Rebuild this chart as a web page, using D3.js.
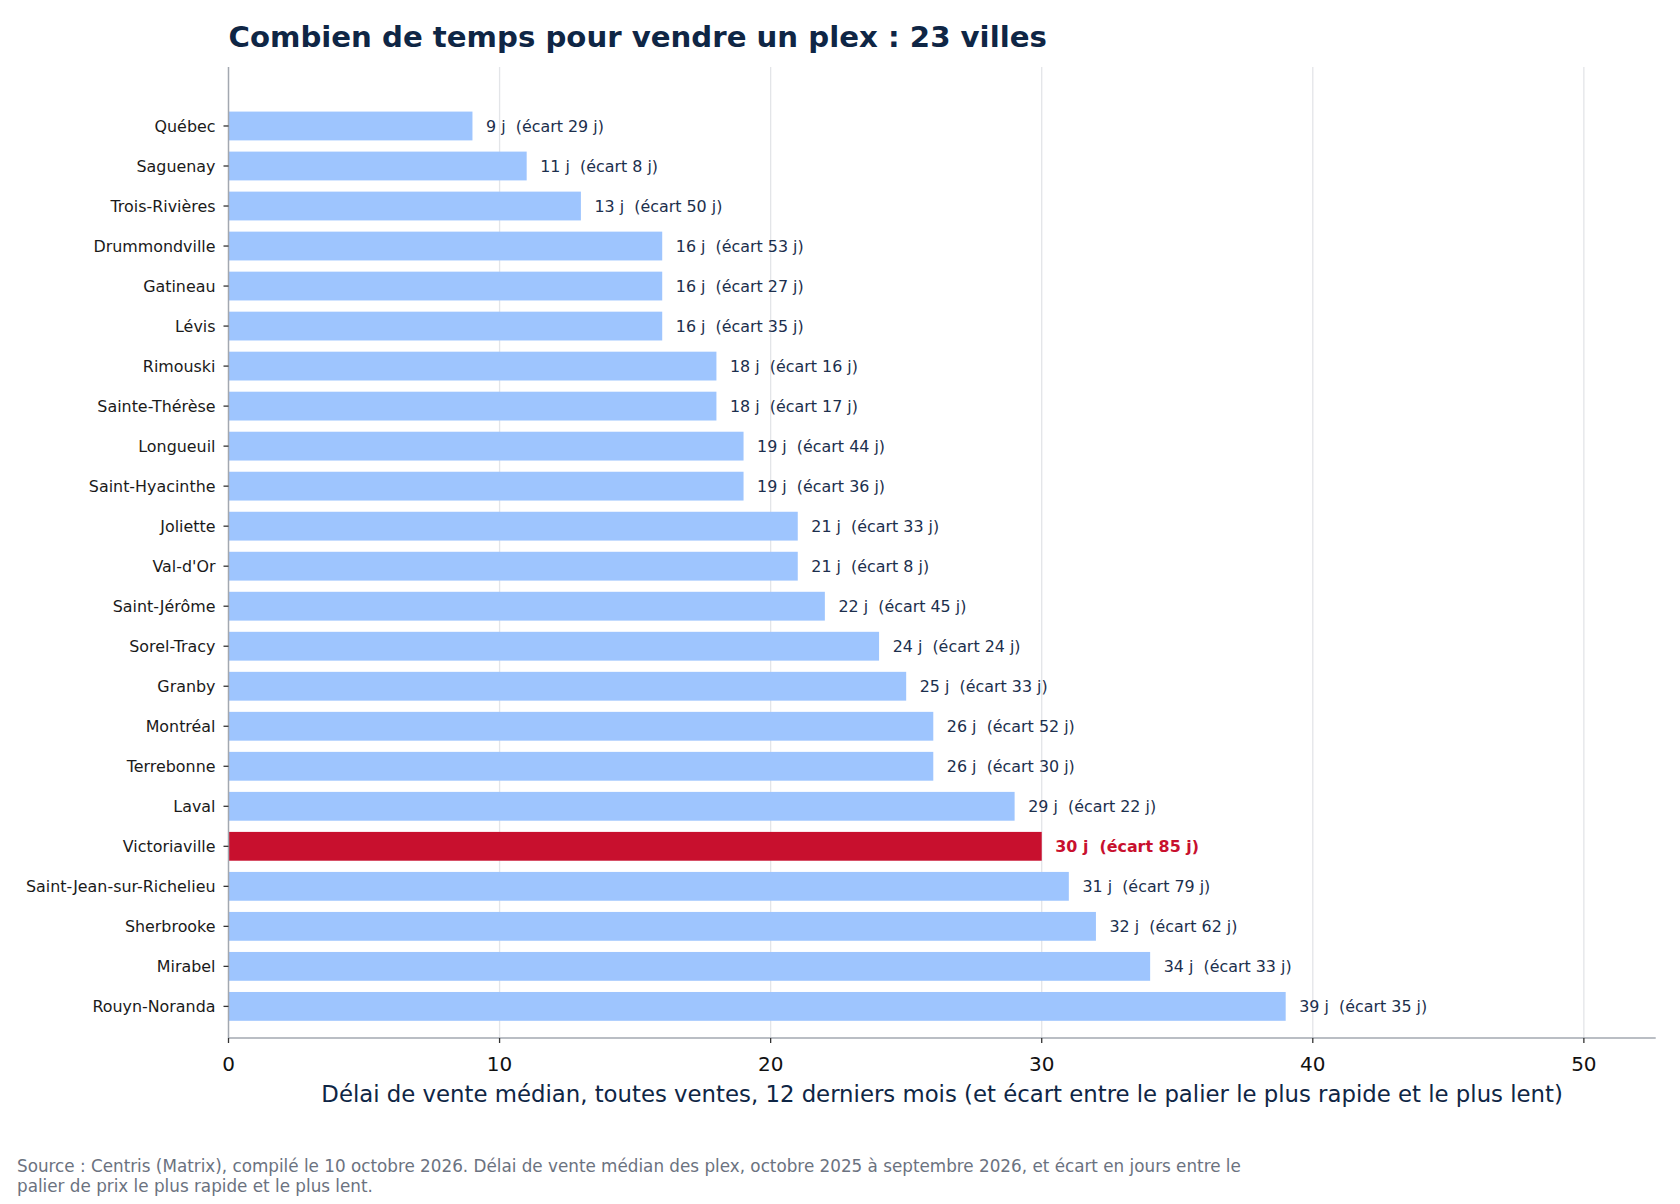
<!DOCTYPE html>
<html><head><meta charset="utf-8">
<script src="https://cdn.jsdelivr.net/npm/d3@7"></script>
<style>
html,body{margin:0;padding:0;background:#fff;}
svg{display:block;font-family:"DejaVu Sans",sans-serif;}
</style></head>
<body>
<svg id="chart" width="1680" height="1204"></svg>
<script>
const cities = ["Québec","Saguenay","Trois-Rivières","Drummondville","Gatineau","Lévis","Rimouski","Sainte-Thérèse","Longueuil","Saint-Hyacinthe","Joliette","Val-d'Or","Saint-Jérôme","Sorel-Tracy","Granby","Montréal","Terrebonne","Laval","Victoriaville","Saint-Jean-sur-Richelieu","Sherbrooke","Mirabel","Rouyn-Noranda"];
const medianDays = [9,11,13,16,16,16,18,18,19,19,21,21,22,24,25,26,26,29,30,31,32,34,39];
const spreadDays = [29,8,50,53,27,35,16,17,44,36,33,8,45,24,33,52,30,22,85,79,62,33,35];
const xTicks = [0,10,20,30,40,50];
const highlight = "Victoriaville";
const titleText = "Combien de temps pour vendre un plex : 23 villes";
const xLabelText = "Délai de vente médian, toutes ventes, 12 derniers mois (et écart entre le palier le plus rapide et le plus lent)";
const sourceLines = ["Source : Centris (Matrix), compilé le 10 octobre 2026. Délai de vente médian des plex, octobre 2025 à septembre 2026, et écart en jours entre le","palier de prix le plus rapide et le plus lent."];

const svg = d3.select("#chart");
const L = 228.5, R = 1655.7, T = 67, B = 1038;
const x = d3.scaleLinear().domain([0, d3.max(medianDays)*1.35]).range([L, R]);
const y = d3.scaleLinear().domain([-1.474, 22.79]).range([T, B]);
const barH = y(0.72) - y(0);

const blue = "#9ec5fe", red = "#c8102e", navy = "#0f2645";

// grid
svg.append("g").selectAll("line").data(xTicks.filter(d=>d>0)).join("line")
  .attr("x1", d=>x(d)).attr("x2", d=>x(d)).attr("y1", T).attr("y2", B)
  .attr("stroke", "#e3e5e8").attr("stroke-width", 1.3);

// bars
svg.append("g").selectAll("rect").data(cities).join("rect")
  .attr("x", x(0)).attr("y", (d,i)=>y(i)-barH/2)
  .attr("width", (d,i)=>x(medianDays[i])-x(0)).attr("height", barH)
  .attr("fill", d=>d===highlight?red:blue);

// value labels
svg.append("g").selectAll("text").data(cities).join("text")
  .attr("x", (d,i)=>x(medianDays[i]+0.5)).attr("y", (d,i)=>y(i))
  .attr("dy", "0.35em").attr("font-size", 15.9)
  .attr("font-weight", d=>d===highlight?"bold":"normal")
  .attr("fill", d=>d===highlight?red:"#1c2f4d")
  .attr("xml:space","preserve").style("white-space","pre")
  .text((d,i)=>`${medianDays[i]} j  (écart ${spreadDays[i]} j)`);

// y axis
const yAx = svg.append("g");
yAx.append("line").attr("x1", L).attr("x2", L).attr("y1", T).attr("y2", B).attr("stroke", "#a3a8b0").attr("stroke-width", 1.5);
yAx.selectAll("line.t").data(cities).join("line").attr("class","t")
  .attr("x1", L-5).attr("x2", L).attr("y1",(d,i)=>y(i)).attr("y2",(d,i)=>y(i))
  .attr("stroke", "#333").attr("stroke-width", 1.3);
yAx.selectAll("text").data(cities).join("text")
  .attr("x", L-13).attr("y",(d,i)=>y(i)).attr("dy","0.35em")
  .attr("text-anchor","end").attr("font-size",15.9).attr("fill","#1a1a1a").text(d=>d);

// x axis
const xAx = svg.append("g");
xAx.append("line").attr("x1", L).attr("x2", R).attr("y1", B).attr("y2", B).attr("stroke", "#a3a8b0").attr("stroke-width", 1.5);
xAx.selectAll("line.t").data(xTicks).join("line").attr("class","t")
  .attr("x1", d=>x(d)).attr("x2", d=>x(d)).attr("y1", B).attr("y2", B+5)
  .attr("stroke", "#333").attr("stroke-width", 1.3);
xAx.selectAll("text").data(xTicks).join("text")
  .attr("x", d=>x(d)).attr("y", B+33).attr("text-anchor","middle")
  .attr("font-size",20).attr("fill","#111").text(d=>d);
svg.append("text").attr("x",(L+R)/2).attr("y",1102).attr("text-anchor","middle")
  .attr("font-size",22.8).attr("fill",navy).text(xLabelText);

// title
svg.append("text").attr("x", L).attr("y", 47).attr("font-size",29.2).attr("font-weight","bold")
  .attr("fill",navy).text(titleText);

// source
svg.append("g").selectAll("text").data(sourceLines).join("text")
  .attr("x",17).attr("y",(d,i)=>1172+i*20).attr("font-size",16.8).attr("fill","#6b7280").text(d=>d);
</script>
</body></html>
